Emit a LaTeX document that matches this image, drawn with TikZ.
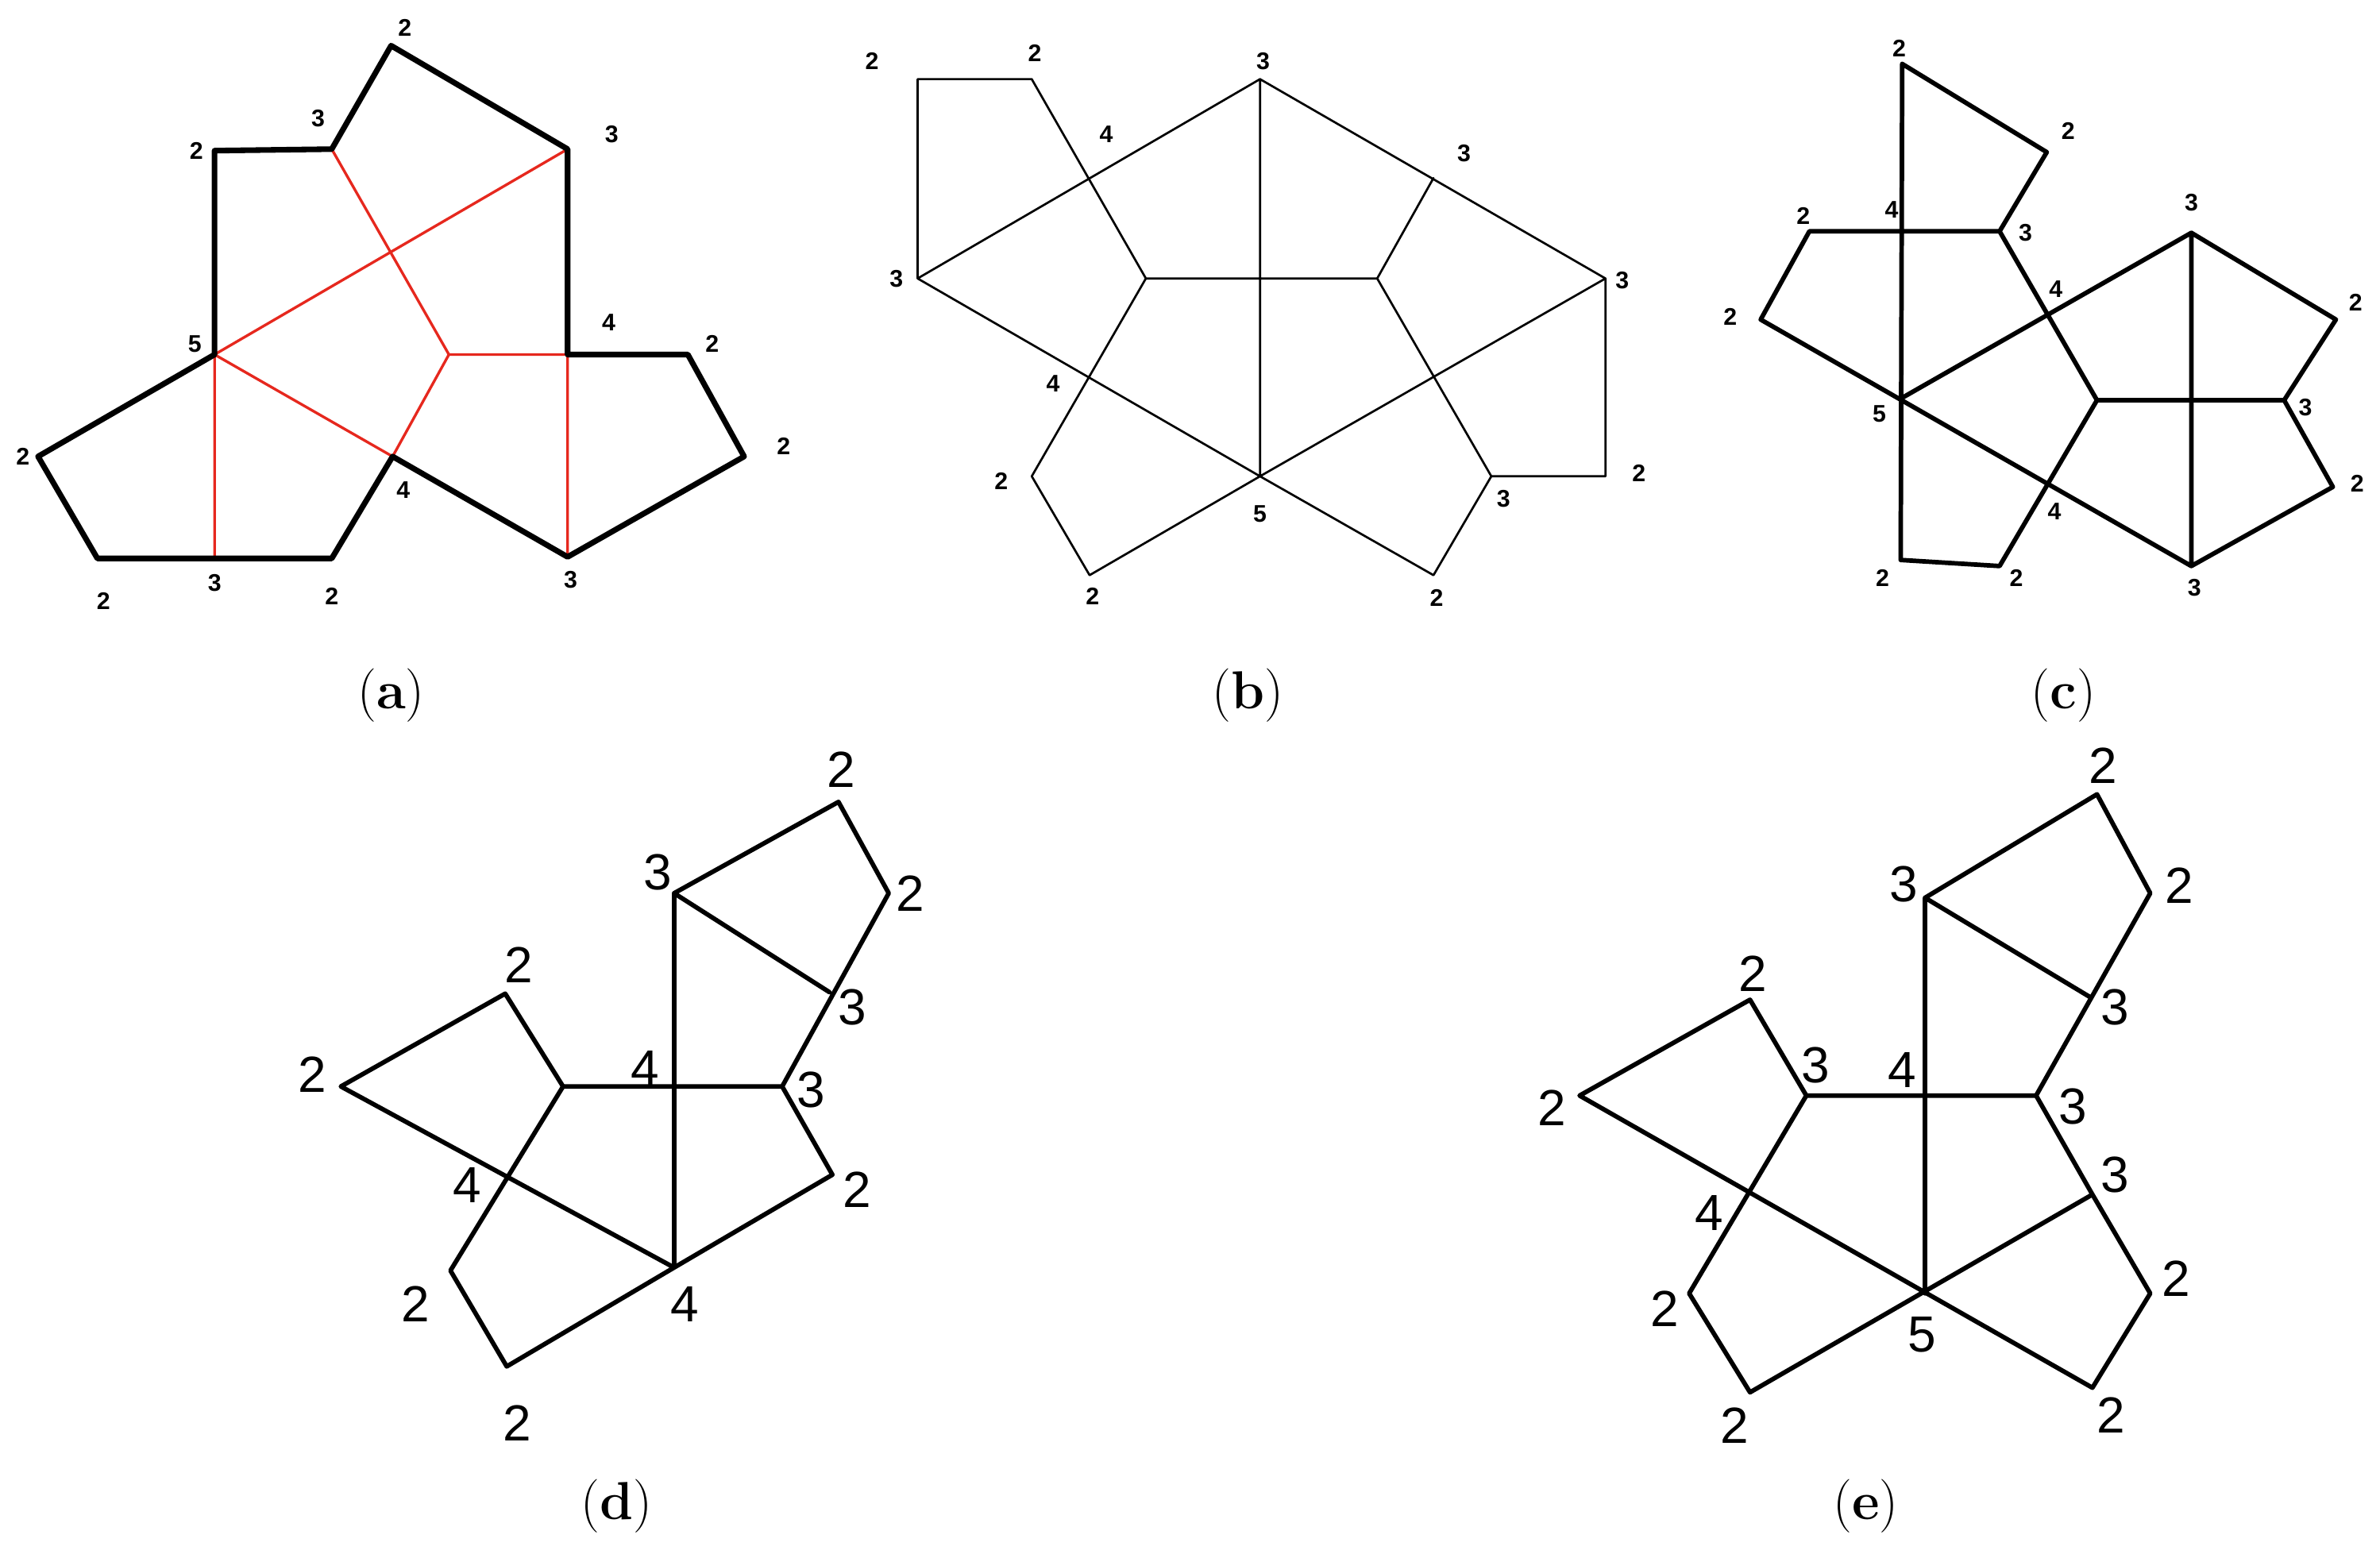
\documentclass[tikz,border=0pt]{standalone}
\usepackage{fontspec}
\newfontfamily\lab{Liberation Sans}
\begin{document}
\begin{tikzpicture}[x=0.02cm,y=-0.02cm,line join=round,line cap=round,
  sl/.style={font=\lab\bfseries\fontsize{9}{9}\selectfont,inner sep=0pt},
  bl/.style={font=\lab\fontsize{19}{19}\selectfont,inner sep=0pt},
  captxt/.style={font=\fontsize{20}{20}\selectfont,inner sep=0pt},
  thk/.style={line width=2.1pt},
  redl/.style={draw={rgb,255:red,230;green,40;blue,30},line width=1pt},
  thn/.style={line width=0.8pt},
  med/.style={line width=1.7pt}]
\useasboundingbox (0,0) rectangle (1564,1021);
% ---------- (a)
\foreach \n/\x/\y in {a1/141/99,a2/218/98,a3/257/30,a4/373/98,a5/373/233,a6/452/233,a7/489/300,a8/373/366,a9/258/300,a10/218/367,a11/141/367,a12/64/367,a13/25/300,a14/141/233,ap/295/233}
  \coordinate (\n) at (\x,\y);
\draw[redl] (a14)--(a4) (a14)--(a9) (a14)--(a11) (a5)--(a8) (a2)--(ap)--(a9) (ap)--(a5);
\draw[thk] (a14)--(a1)--(a2)--(a3)--(a4)--(a5)--(a6)--(a7)--(a8)--(a9)--(a10)--(a11)--(a12)--(a13)--cycle;
\foreach \t/\x/\y in {2/266/18,3/209/78,2/129/99,3/402/88,5/128/226,4/400/212,2/468/226,2/515/293,2/15/300,4/265/322,3/375/381,2/68/395,3/141/383,2/218/392}
  \node[sl] at (\x,\y) {\t};
\node[captxt] (ca) at (257,457) {(\textbf{a})};
% ---------- (b)
\foreach \n/\x/\y in {b1/603/52,b2/678/52,b3/828/52,b4/603/183,b5/1055/183,b6/1055/313,b7/980/313,b8/942/378,b9/828/313,b10/716/378,b11/678/313,p1/753/183,p2/905/183,q1/942/117,q2/716/247}
  \coordinate (\n) at (\x,\y);
\draw[thn] (b4)--(b1)--(b2)--(p1)--(p2)--(b7)--(b6)--(b5)--(b3)--(b4)--(b9)--(b5) (b3)--(b9) (p2)--(q1) (p1)--(b11)--(b10)--(b9)--(b8)--(b7);
\foreach \t/\x/\y in {2/573/40,2/680/35,3/830/40,4/727/88,3/962/101,3/589/183,3/1066/184,4/692/252,2/658/316,2/1077/311,3/988/328,5/828/338,2/718/392,2/944/393}
  \node[sl] at (\x,\y) {\t};
\node[captxt] (cb) at (820,457) {(\textbf{b})};
% ---------- (c)
\foreach \n/\x/\y in {c1/1250/42,c2/1345/100,c3/1314/152,c4/1189/152,c5/1157/210,c6/1249/262,c7/1249/368,c8/1314/372,c10/1440/153,c11/1535/210,c12/1501/263,c13/1533/320,c14/1440/372,c15/1378/263}
  \coordinate (\n) at (\x,\y);
\draw[med] (c1)--(c7)--(c8)--(c15)--(c3)--(c2)--(c1) (c3)--(c4)--(c5)--(c14)--(c13)--(c12)--(c11)--(c10)--(c14) (c6)--(c10) (c15)--(c12);
\foreach \t/\x/\y in {2/1248/32,2/1359/86,4/1243/138,3/1331/153,2/1185/142,2/1137/208,3/1440/133,4/1351/190,5/1235/272,2/1548/199,3/1515/268,2/1549/318,4/1350/336,2/1237/380,2/1325/380,3/1442/386}
  \node[sl] at (\x,\y) {\t};
\node[captxt] (cc) at (1356,457) {(\textbf{c})};
% ---------- (d)
\foreach \n/\x/\y in {d1/443/587,d2/551/527,d3/584/587,d4/545/652,d5/514/714,d6/547/772,d7/443/833,d8/333/898,d9/296/835,d11/370/714,d12/332/653,d13/224/714}
  \coordinate (\n) at (\x,\y);
\draw[med] (d1)--(d2)--(d3)--(d5)--(d6)--(d7)--(d8)--(d9)--(d11)--(d12)--(d13)--(d7)--(d1)--(d4) (d11)--(d5);
\foreach \t/\x/\y in {3/432/573,2/553/506,2/598/587,3/560/662,4/424/702,3/533/716,2/341/634,2/205/706,2/563/782,4/307/779,4/450/857,2/273/857,2/340/935}
  \node[bl] at (\x,\y) {\t};
\node[captxt] (cd) at (405,990) {(\textbf{d})};
% ---------- (e)
\foreach \n/\x/\y in {e1/1265/590,e2/1378/522,e3/1413/587,e5/1338/720,e6/1375/785,e7/1413/850,e8/1375/912,e9/1265/850,e10/1150/915,e11/1110/850,e13/1187/720,e14/1150/657,e15/1038/720,e4/1373/655}
  \coordinate (\n) at (\x,\y);
\draw[med] (e1)--(e2)--(e3)--(e5)--(e6)--(e7)--(e8)--(e15)--(e14)--(e13)--(e11)--(e10)--(e6) (e1)--(e9) (e1)--(e4) (e13)--(e5);
\foreach \t/\x/\y in {3/1251/581,2/1382/503,2/1432/582,3/1390/662,4/1250/703,3/1193/700,3/1362/727,2/1152/640,2/1020/728,3/1390/772,4/1123/797,2/1430/840,2/1094/860,5/1263/877,2/1387/930,2/1140/937}
  \node[bl] at (\x,\y) {\t};
\node[captxt] (ce) at (1226,990) {(\textbf{e})};
\end{tikzpicture}
\end{document}
